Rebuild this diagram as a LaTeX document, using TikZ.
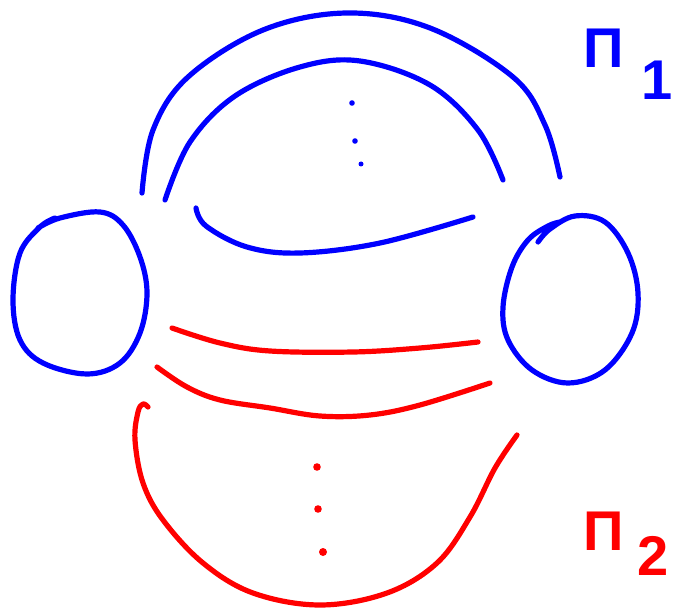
\documentclass[tikz,border=0pt]{standalone}
\usepackage{fontspec}
\newfontfamily\labelfont{Liberation Sans}
\definecolor{penblue}{RGB}{0,0,255}
\definecolor{penred}{RGB}{255,0,0}
\tikzset{
  stroke/.style={line width=5.2pt, line cap=round, line join=round},
  bluestroke/.style={stroke, draw=penblue},
  redstroke/.style={stroke, draw=penred},
  penlabel/.style={font=\labelfont\bfseries\fontsize{56}{56}\selectfont, inner sep=0pt, anchor=base west},
}
\begin{document}
\begin{tikzpicture}[x=1pt,y=-1pt]
\useasboundingbox (0,0) rectangle (695,609);
% blue outer arc
\draw[bluestroke] plot[smooth, tension=0.6] coordinates {(142,193) (153,130) (188,77) (263,30) (347,13) (430,28) (513,77) (545,125) (560,177)};
% blue inner arc
\draw[bluestroke] plot[smooth, tension=0.6] coordinates {(165,200) (190,142) (235,96) (300,67) (360,61) (430,85) (478,130) (503,180)};
% blue dots
\fill[penblue] (352,103) circle (2.8);
\fill[penblue] (355,141) circle (2.8);
\fill[penblue] (361,164) circle (2.5);
% blue lower curve
\draw[bluestroke] plot[smooth, tension=0.6] coordinates {(196,208) (206,226) (247,247) (300,253) (380,243) (473,217)};
% left blue loop
\draw[bluestroke] plot[smooth, tension=0.6] coordinates {(38,228) (60,218) (100,212) (123,225) (140,257) (147,293) (140,333) (120,363) (87,374) (43,363) (20,340) (13,300) (20,253) (40,227) (55,218)};
% right blue loop
\draw[bluestroke] plot[smooth, tension=0.6] coordinates {(538,242) (550,229) (575,216) (605,222) (628,253) (638,293) (632,333) (605,370) (568,383) (532,370) (508,340) (503,307) (512,267) (528,240) (548,226) (560,222)};
% red curves
\draw[redstroke] plot[smooth, tension=0.6] coordinates {(172,328) (220,343) (270,351) (353,352) (420,348) (478,342)};
\draw[redstroke] plot[smooth, tension=0.6] coordinates {(157,367) (187,387) (220,400) (270,408) (320,416) (370,415) (420,405) (490,383)};
\draw[redstroke] plot[smooth, tension=0.6] coordinates {(148,407) (143,404) (138,412) (135,440) (143,483) (163,520) (203,563) (253,593) (320,605) (387,593) (437,563) (470,517) (495,468) (517,435)};
% red dots
\fill[penred] (317,467) circle (3.8);
\fill[penred] (318,509) circle (3.8);
\fill[penred] (323,552) circle (4);
% labels
\node[penlabel, text=penblue] (pi1) at (583,68) {Π\hspace{18pt}\raisebox{-32pt}{1}};
\node[penlabel, text=penred] (pi2) at (583,550) {Π\hspace{14pt}\raisebox{-25pt}{2}};
\end{tikzpicture}
\end{document}
